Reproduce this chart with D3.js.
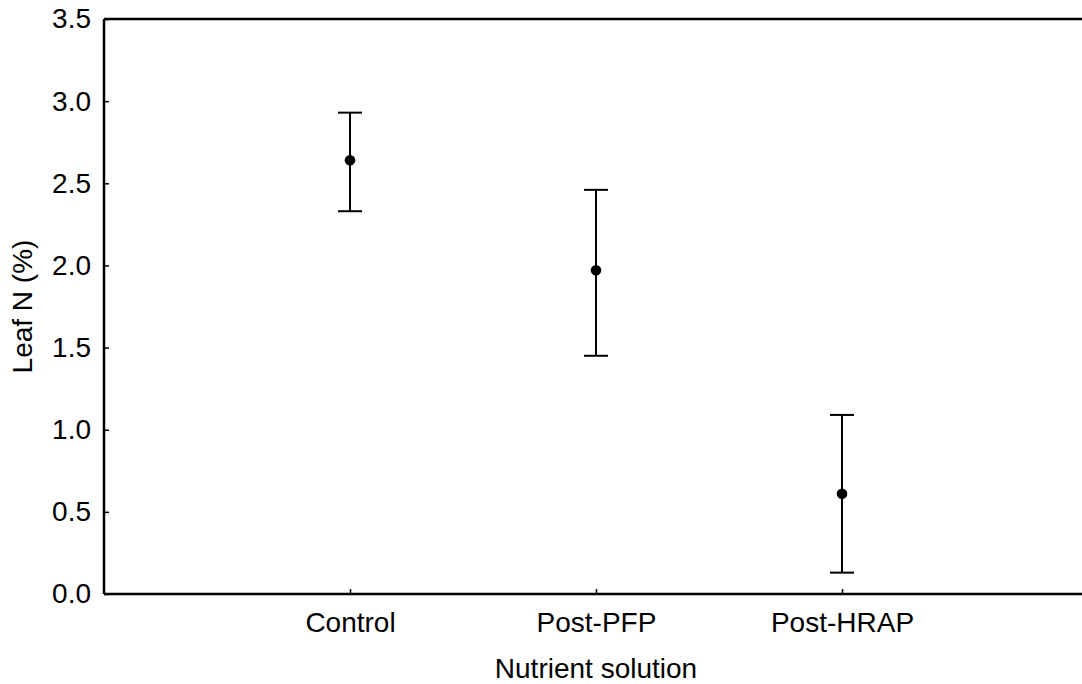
<!DOCTYPE html>
<html>
<head>
<meta charset="utf-8">
<script src="https://cdn.jsdelivr.net/npm/d3@7"></script>
<style>
  body { margin: 0; background: #fff; }
  svg { display: block; font-family: "Liberation Sans", Arial, sans-serif; }
</style>
</head>
<body>
<svg id="chart" width="1082" height="684"></svg>
<script>
// data
const categories = ["Control", "Post-PFP", "Post-HRAP"];
const means = [2.64, 1.97, 0.61];
const upper = [2.93, 2.46, 1.09];
const lower = [2.33, 1.45, 0.13];
const yTicks = [0.0, 0.5, 1.0, 1.5, 2.0, 2.5, 3.0, 3.5];

const svg = d3.select("#chart");
const plotLeft = 104, plotRight = 1088, plotTop = 19, plotBottom = 594;
const fontSize = 28;

const x = d3.scalePoint()
    .domain(categories)
    .range([plotLeft, plotRight])
    .padding(1);

const y = d3.scaleLinear()
    .domain([0, 3.5])
    .range([plotBottom, plotTop]);

// top frame line (no right border in the original)
svg.append("line")
    .attr("x1", plotLeft).attr("x2", 1082)
    .attr("y1", y(3.5)).attr("y2", y(3.5))
    .attr("stroke", "#000").attr("stroke-width", 2.5);

// y axis
const yAxis = svg.append("g")
    .attr("transform", `translate(${plotLeft},0)`)
    .call(d3.axisLeft(y).tickValues(yTicks).tickSize(-5).tickPadding(13).tickFormat(d3.format(".1f")));
yAxis.select(".domain").attr("stroke-width", 2.5).attr("d", `M0,${plotBottom}V${plotTop}`);
yAxis.selectAll(".tick line").attr("stroke-width", 1.5);
yAxis.selectAll(".tick text").attr("font-size", fontSize).attr("fill", "#000");

// x axis
const xAxis = svg.append("g")
    .attr("transform", `translate(0,${plotBottom})`)
    .call(d3.axisBottom(x).tickSize(-5).tickPadding(18));
xAxis.select(".domain").attr("stroke-width", 2.5).attr("d", `M${plotLeft},0H1082`);
xAxis.selectAll(".tick line").attr("stroke-width", 1.5);
xAxis.selectAll(".tick text").attr("font-size", fontSize).attr("fill", "#000");

// axis titles
svg.append("text")
    .attr("x", x("Post-PFP"))
    .attr("y", 678)
    .attr("text-anchor", "middle")
    .attr("font-size", fontSize)
    .text("Nutrient solution");

svg.append("text")
    .attr("transform", `translate(32,${(plotTop + plotBottom) / 2}) rotate(-90)`)
    .attr("text-anchor", "middle")
    .attr("font-size", fontSize)
    .text("Leaf N (%)");

// error bars
const data = categories.map((c, i) => ({c, m: means[i], hi: upper[i], lo: lower[i]}));
const capW = 12;
const g = svg.append("g").attr("stroke", "#000").attr("stroke-width", 2);

g.selectAll(".whisker").data(data).join("line")
    .attr("class", "whisker")
    .attr("x1", d => x(d.c)).attr("x2", d => x(d.c))
    .attr("y1", d => y(d.hi)).attr("y2", d => y(d.lo));
g.selectAll(".cap-hi").data(data).join("line")
    .attr("class", "cap-hi")
    .attr("x1", d => x(d.c) - capW).attr("x2", d => x(d.c) + capW)
    .attr("y1", d => y(d.hi)).attr("y2", d => y(d.hi));
g.selectAll(".cap-lo").data(data).join("line")
    .attr("class", "cap-lo")
    .attr("x1", d => x(d.c) - capW).attr("x2", d => x(d.c) + capW)
    .attr("y1", d => y(d.lo)).attr("y2", d => y(d.lo));

svg.selectAll("circle").data(data).join("circle")
    .attr("cx", d => x(d.c))
    .attr("cy", d => y(d.m))
    .attr("r", 5.3)
    .attr("fill", "#000");
</script>
</body>
</html>
